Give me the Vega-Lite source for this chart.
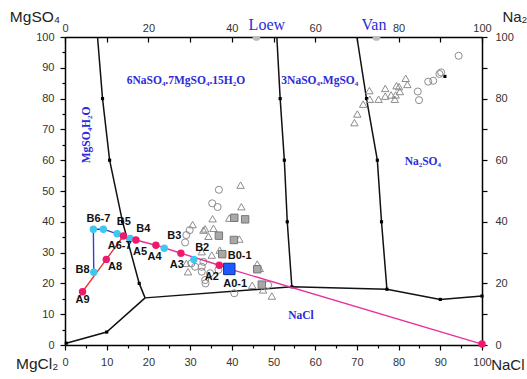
{
  "$schema": "https://vega.github.io/schema/vega-lite/v6.json",
  "width": 417,
  "height": 308,
  "autosize": {"type": "none"},
  "padding": {"left": 65, "top": 37, "right": 45, "bottom": 34},
  "config": {"view": {"stroke": null}, "background": "white"},
  "datasets": {
    "bound": [
      {"seg": "L", "o": 1, "x": 7.8, "y": 100}, {"seg": "L", "o": 2, "x": 9.0, "y": 80}, {"seg": "L", "o": 3, "x": 10.7, "y": 60}, {"seg": "L", "o": 4, "x": 13.8, "y": 40}, {"seg": "L", "o": 5, "x": 17.8, "y": 20}, {"seg": "L", "o": 6, "x": 19.2, "y": 15.3},
      {"seg": "B", "o": 1, "x": 0.3, "y": 0.6}, {"seg": "B", "o": 2, "x": 10.0, "y": 4.2}, {"seg": "B", "o": 3, "x": 19.2, "y": 15.3},
      {"seg": "C", "o": 1, "x": 19.2, "y": 15.3}, {"seg": "C", "o": 2, "x": 54.4, "y": 18.9}, {"seg": "C", "o": 3, "x": 77.2, "y": 18.1}, {"seg": "C", "o": 4, "x": 90.0, "y": 14.8}, {"seg": "C", "o": 5, "x": 100, "y": 15.9},
      {"seg": "D", "o": 1, "x": 50.8, "y": 100}, {"seg": "D", "o": 2, "x": 51.6, "y": 80}, {"seg": "D", "o": 3, "x": 52.6, "y": 60}, {"seg": "D", "o": 4, "x": 53.3, "y": 40}, {"seg": "D", "o": 5, "x": 54.4, "y": 18.9},
      {"seg": "E", "o": 1, "x": 70.0, "y": 100}, {"seg": "E", "o": 2, "x": 72.3, "y": 80}, {"seg": "E", "o": 3, "x": 74.9, "y": 60}, {"seg": "E", "o": 4, "x": 75.9, "y": 40}, {"seg": "E", "o": 5, "x": 77.2, "y": 18.1}
    ],
    "nodes": [
      {"x": 9.0, "y": 80}, {"x": 10.7, "y": 60}, {"x": 13.8, "y": 40}, {"x": 17.8, "y": 20},
      {"x": 0.3, "y": 0.6}, {"x": 10.0, "y": 4.2}, {"x": 54.4, "y": 18.9}, {"x": 77.2, "y": 18.1}, {"x": 90.0, "y": 14.8}, {"x": 100, "y": 15.9},
      {"x": 51.6, "y": 80}, {"x": 52.6, "y": 60}, {"x": 53.3, "y": 40},
      {"x": 72.3, "y": 80}, {"x": 74.9, "y": 60}, {"x": 75.9, "y": 40},
      {"x": 91.1, "y": 87.2}
    ],
    "gray": [
      {"k": "c", "x": 36.9, "y": 50.4}, {"k": "c", "x": 35.3, "y": 46.0}, {"k": "c", "x": 36.6, "y": 44.8}, {"k": "c", "x": 29.9, "y": 37.3}, {"k": "c", "x": 29.1, "y": 35.7}, {"k": "c", "x": 28.8, "y": 33.3},
      {"k": "c", "x": 30.3, "y": 26.5}, {"k": "c", "x": 31.2, "y": 25.4}, {"k": "c", "x": 32.8, "y": 25.4}, {"k": "c", "x": 33.2, "y": 27.0}, {"k": "c", "x": 32.8, "y": 23.8}, {"k": "c", "x": 34.8, "y": 23.3},
      {"k": "c", "x": 36.8, "y": 24.4}, {"k": "c", "x": 33.6, "y": 21.1}, {"k": "c", "x": 33.7, "y": 20.0}, {"k": "c", "x": 40.6, "y": 16.8}, {"k": "c", "x": 48.7, "y": 19.5},
      {"k": "c", "x": 94.4, "y": 93.9}, {"k": "c", "x": 84.6, "y": 82.3}, {"k": "c", "x": 84.9, "y": 79.5}, {"k": "c", "x": 87.1, "y": 85.5}, {"k": "c", "x": 88.3, "y": 85.8}, {"k": "c", "x": 89.8, "y": 88.0}, {"k": "c", "x": 90.2, "y": 88.5},
      {"k": "t", "x": 42.1, "y": 51.9}, {"k": "t", "x": 42.3, "y": 44.9}, {"k": "t", "x": 39.4, "y": 41.2}, {"k": "t", "x": 35.4, "y": 41.0}, {"k": "t", "x": 35.6, "y": 37.9}, {"k": "t", "x": 33.6, "y": 37.7},
      {"k": "t", "x": 30.6, "y": 39.1}, {"k": "t", "x": 33.2, "y": 37.3}, {"k": "t", "x": 34.4, "y": 35.3}, {"k": "t", "x": 41.8, "y": 34.4}, {"k": "t", "x": 37.1, "y": 30.8}, {"k": "t", "x": 35.2, "y": 29.2},
      {"k": "t", "x": 32.8, "y": 30.3}, {"k": "t", "x": 29.1, "y": 26.5}, {"k": "t", "x": 29.5, "y": 23.8}, {"k": "t", "x": 46.1, "y": 26.3}, {"k": "t", "x": 46.7, "y": 24.9}, {"k": "t", "x": 44.9, "y": 19.4},
      {"k": "t", "x": 47.5, "y": 17.9}, {"k": "t", "x": 49.6, "y": 15.9},
      {"k": "t", "x": 81.7, "y": 86.6}, {"k": "t", "x": 82.1, "y": 84.6}, {"k": "t", "x": 79.5, "y": 84.2}, {"k": "t", "x": 80.1, "y": 83.9}, {"k": "t", "x": 76.8, "y": 83.3}, {"k": "t", "x": 73.0, "y": 82.6},
      {"k": "t", "x": 80.3, "y": 82.3}, {"k": "t", "x": 79.3, "y": 81.2}, {"k": "t", "x": 78.2, "y": 81.2}, {"k": "t", "x": 76.8, "y": 80.8}, {"k": "t", "x": 75.2, "y": 79.8}, {"k": "t", "x": 73.1, "y": 79.8},
      {"k": "t", "x": 79.1, "y": 79.8}, {"k": "t", "x": 71.5, "y": 78.2}, {"k": "t", "x": 70.1, "y": 75.0}, {"k": "t", "x": 69.4, "y": 72.2},
      {"k": "s", "x": 40.6, "y": 41.3}, {"k": "s", "x": 43.2, "y": 40.8}, {"k": "s", "x": 36.9, "y": 35.5}, {"k": "s", "x": 40.5, "y": 34.1}, {"k": "s", "x": 37.7, "y": 29.5},
      {"k": "s", "x": 46.1, "y": 24.6}, {"k": "s", "x": 47.2, "y": 19.6}
    ],
    "edge": [
      {"x": 45.9, "y": 100}, {"x": 74.7, "y": 100}
    ],
    "path": [
      {"g": "red", "o": 1, "x": 4.2, "y": 17.3}, {"g": "red", "o": 2, "x": 9.9, "y": 27.8}, {"g": "red", "o": 3, "x": 14.0, "y": 35.4},
      {"g": "mag", "o": 1, "x": 14.0, "y": 35.4}, {"g": "mag", "o": 2, "x": 17.0, "y": 34.1}, {"g": "mag", "o": 3, "x": 21.8, "y": 32.4}, {"g": "mag", "o": 4, "x": 27.8, "y": 29.8}, {"g": "mag", "o": 5, "x": 37.0, "y": 25.9}, {"g": "mag", "o": 6, "x": 39.4, "y": 24.7}, {"g": "mag", "o": 7, "x": 100, "y": 0.3},
      {"g": "blue", "o": 1, "x": 6.9, "y": 23.6}, {"g": "blue", "o": 2, "x": 6.8, "y": 37.6}, {"g": "blue", "o": 3, "x": 9.2, "y": 37.6}, {"g": "blue", "o": 4, "x": 12.5, "y": 36.1}, {"g": "blue", "o": 5, "x": 15.6, "y": 34.6}
    ],
    "apts": [
      {"x": 4.2, "y": 17.3}, {"x": 9.9, "y": 27.8}, {"x": 14.0, "y": 35.4}, {"x": 17.0, "y": 34.1}, {"x": 21.8, "y": 32.4}, {"x": 27.8, "y": 29.8}, {"x": 37.0, "y": 25.9}, {"x": 39.4, "y": 24.7}, {"x": 100, "y": 0.3}
    ],
    "bpts": [
      {"x": 6.9, "y": 23.6}, {"x": 6.8, "y": 37.6}, {"x": 9.2, "y": 37.6}, {"x": 12.5, "y": 36.1}, {"x": 15.6, "y": 34.6}, {"x": 23.8, "y": 31.4}, {"x": 30.9, "y": 27.8}
    ],
    "b01": [{"x": 39.4, "y": 24.7}],
    "labs": [
      {"t": "B6-7", "x": 8.0, "y": 40.9}, {"t": "B5", "x": 14.1, "y": 39.8}, {"t": "B4", "x": 18.8, "y": 37.6}, {"t": "B3", "x": 26.2, "y": 35.5},
      {"t": "B2", "x": 32.9, "y": 31.6}, {"t": "B0-1", "x": 41.9, "y": 28.9}, {"t": "A6-7", "x": 13.1, "y": 32.2}, {"t": "A5", "x": 18.0, "y": 30.3},
      {"t": "A4", "x": 21.5, "y": 28.7}, {"t": "A3", "x": 26.8, "y": 26.0}, {"t": "A2", "x": 35.2, "y": 22.0}, {"t": "A0-1", "x": 40.8, "y": 19.7},
      {"t": "A8", "x": 12.0, "y": 25.4}, {"t": "B8", "x": 4.2, "y": 24.4}, {"t": "A9", "x": 4.2, "y": 14.6}
    ],
    "regions": [
      {"t": "6NaSO₄.7MgSO₄.15H₂O", "x": 29.0, "y": 85.8},
      {"t": "3NaSO₄.MgSO₄", "x": 61.1, "y": 85.8},
      {"t": "Na₂SO₄", "x": 85.8, "y": 59.5},
      {"t": "NaCl", "x": 56.6, "y": 9.4}
    ],
    "vert": [{"t": "MgSO₄H₂O", "x": 5.2, "y": 68.2}],
    "tops": [{"t": "Loew", "x": 48.4, "y": 104.0}, {"t": "Van", "x": 74.1, "y": 104.0}],
    "cornL": [{"t": "MgSO₄", "x": -7.2, "y": 106.6}, {"t": "MgCl₂", "x": -6.7, "y": -6.2}],
    "cornR": [{"t": "Na₂SO₄", "x": 104.9, "y": 106.6}, {"t": "NaCl", "x": 102.2, "y": -6.6}]
  },
  "resolve": {"axis": {"x": "independent", "y": "independent"}},
  "layer": [
    {
      "data": {"name": "bound"},
      "mark": {"type": "line", "color": "#111", "strokeWidth": 1.5},
      "encoding": {
        "x": {"field": "x", "type": "quantitative", "scale": {"domain": [0, 100], "nice": false},
          "axis": {"orient": "bottom", "title": null, "grid": false, "values": [0,5,10,15,20,25,30,35,40,45,50,55,60,65,70,75,80,85,90,95,100],
            "labelExpr": "datum.value % 10 === 0 ? datum.label : ''",
            "tickSize": {"condition": {"test": "datum.value % 10 === 0", "value": 5}, "value": 3},
            "labelFlush": false, "labelOverlap": false, "domainColor": "#000", "domainWidth": 1.5, "tickColor": "#000", "tickWidth": 1.2,
            "labelFont": "Liberation Sans", "labelFontSize": 11, "labelColor": "#333", "labelPadding": 6}},
        "y": {"field": "y", "type": "quantitative", "scale": {"domain": [0, 100], "nice": false},
          "axis": {"orient": "left", "title": null, "grid": false, "values": [0,5,10,15,20,25,30,35,40,45,50,55,60,65,70,75,80,85,90,95,100],
            "labelExpr": "datum.value % 10 === 0 ? datum.label : ''",
            "tickSize": {"condition": {"test": "datum.value % 10 === 0", "value": 5}, "value": 3},
            "labelFlush": false, "labelOverlap": false, "domainColor": "#000", "domainWidth": 1.5, "tickColor": "#000", "tickWidth": 1.2,
            "labelFont": "Liberation Sans", "labelFontSize": 11, "labelColor": "#333", "labelPadding": 6}},
        "detail": {"field": "seg"},
        "order": {"field": "o", "type": "quantitative"}
      }
    },
    {
      "data": {"name": "nodes"},
      "mark": {"type": "point", "shape": "square", "filled": true, "color": "#000", "size": 10, "opacity": 1},
      "encoding": {
        "x": {"field": "x", "type": "quantitative",
          "axis": {"orient": "top", "title": null, "grid": false, "values": [0,10,20,30,40,50,60,70,80,90,100],
            "labelExpr": "datum.value % 20 === 0 ? datum.label : ''",
            "tickSize": -5, "labelFlush": false, "labelOverlap": false, "domainColor": "#000", "domainWidth": 1.5, "tickColor": "#000", "tickWidth": 1.2,
            "labelFont": "Liberation Sans", "labelFontSize": 11, "labelColor": "#333", "labelPadding": 9}},
        "y": {"field": "y", "type": "quantitative",
          "axis": {"orient": "right", "title": null, "grid": false, "values": [0,10,20,30,40,50,60,70,80,90,100],
            "labelExpr": "datum.value % 20 === 0 ? datum.label : ''",
            "tickSize": 5, "labelFlush": false, "labelOverlap": false, "domainColor": "#000", "domainWidth": 1.5, "tickColor": "#000", "tickWidth": 1.2,
            "labelFont": "Liberation Sans", "labelFontSize": 11, "labelColor": "#333", "labelPadding": 8}}
      }
    },
    {
      "data": {"name": "edge"},
      "mark": {"type": "point", "shape": "circle", "filled": true, "color": "#bbbbbb", "size": 60, "opacity": 1, "clip": true},
      "encoding": {"x": {"field": "x", "type": "quantitative", "axis": null}, "y": {"field": "y", "type": "quantitative", "axis": null}}
    },
    {
      "data": {"name": "gray"},
      "transform": [{"filter": "datum.k === 'c'"}],
      "mark": {"type": "point", "shape": "circle", "filled": false, "stroke": "#8c8c8c", "strokeWidth": 1, "size": 50, "opacity": 1},
      "encoding": {"x": {"field": "x", "type": "quantitative", "axis": null}, "y": {"field": "y", "type": "quantitative", "axis": null}}
    },
    {
      "data": {"name": "gray"},
      "transform": [{"filter": "datum.k === 't'"}],
      "mark": {"type": "point", "shape": "triangle-up", "filled": false, "stroke": "#8c8c8c", "strokeWidth": 1, "size": 55, "opacity": 1},
      "encoding": {"x": {"field": "x", "type": "quantitative", "axis": null}, "y": {"field": "y", "type": "quantitative", "axis": null}}
    },
    {
      "data": {"name": "gray"},
      "transform": [{"filter": "datum.k === 's'"}],
      "mark": {"type": "point", "shape": "square", "filled": true, "fill": "#a8a8a8", "stroke": "#777", "strokeWidth": 1, "size": 55, "opacity": 1},
      "encoding": {"x": {"field": "x", "type": "quantitative", "axis": null}, "y": {"field": "y", "type": "quantitative", "axis": null}}
    },
    {
      "data": {"name": "path"},
      "mark": {"type": "line", "strokeWidth": 1.4},
      "encoding": {
        "x": {"field": "x", "type": "quantitative", "axis": null},
        "y": {"field": "y", "type": "quantitative", "axis": null},
        "color": {"field": "g", "type": "nominal", "scale": {"domain": ["red", "mag", "blue"], "range": ["#e8383a", "#e8309a", "#3a3ad8"]}, "legend": null},
        "order": {"field": "o", "type": "quantitative"}
      }
    },
    {
      "data": {"name": "bpts"},
      "mark": {"type": "point", "shape": "circle", "filled": true, "color": "#3cc8f0", "size": 55, "opacity": 1},
      "encoding": {"x": {"field": "x", "type": "quantitative", "axis": null}, "y": {"field": "y", "type": "quantitative", "axis": null}}
    },
    {
      "data": {"name": "apts"},
      "mark": {"type": "point", "shape": "circle", "filled": true, "color": "#f0186a", "size": 55, "opacity": 1},
      "encoding": {"x": {"field": "x", "type": "quantitative", "axis": null}, "y": {"field": "y", "type": "quantitative", "axis": null}}
    },
    {
      "data": {"name": "b01"},
      "mark": {"type": "point", "shape": "square", "filled": true, "fill": "#1c5cff", "stroke": "#0a2a9a", "strokeWidth": 1, "size": 130, "opacity": 1},
      "encoding": {"x": {"field": "x", "type": "quantitative", "axis": null}, "y": {"field": "y", "type": "quantitative", "axis": null}}
    },
    {
      "data": {"name": "labs"},
      "mark": {"type": "text", "font": "Liberation Sans", "fontSize": 11, "fontWeight": "bold", "color": "#111"},
      "encoding": {"x": {"field": "x", "type": "quantitative", "axis": null}, "y": {"field": "y", "type": "quantitative", "axis": null}, "text": {"field": "t"}}
    },
    {
      "data": {"name": "regions"},
      "mark": {"type": "text", "font": "Liberation Serif", "fontSize": 11.5, "fontWeight": "bold", "color": "#2b2bd8"},
      "encoding": {"x": {"field": "x", "type": "quantitative", "axis": null}, "y": {"field": "y", "type": "quantitative", "axis": null}, "text": {"field": "t"}}
    },
    {
      "data": {"name": "vert"},
      "mark": {"type": "text", "font": "Liberation Serif", "fontSize": 11.5, "fontWeight": "bold", "color": "#2b2bd8", "angle": 270},
      "encoding": {"x": {"field": "x", "type": "quantitative", "axis": null}, "y": {"field": "y", "type": "quantitative", "axis": null}, "text": {"field": "t"}}
    },
    {
      "data": {"name": "tops"},
      "mark": {"type": "text", "font": "Liberation Serif", "fontSize": 16, "color": "#2b2bd8", "clip": false},
      "encoding": {"x": {"field": "x", "type": "quantitative", "axis": null}, "y": {"field": "y", "type": "quantitative", "axis": null}, "text": {"field": "t"}}
    },
    {
      "data": {"name": "cornL"},
      "mark": {"type": "text", "font": "Liberation Sans", "fontSize": 15.5, "color": "#222", "clip": false},
      "encoding": {"x": {"field": "x", "type": "quantitative", "axis": null}, "y": {"field": "y", "type": "quantitative", "axis": null}, "text": {"field": "t"}}
    },
    {
      "data": {"name": "cornR"},
      "mark": {"type": "text", "font": "Liberation Sans", "fontSize": 15, "color": "#222", "align": "left", "clip": false},
      "encoding": {"x": {"field": "x", "type": "quantitative", "axis": null}, "y": {"field": "y", "type": "quantitative", "axis": null}, "text": {"field": "t"}}
    }
  ]
}
